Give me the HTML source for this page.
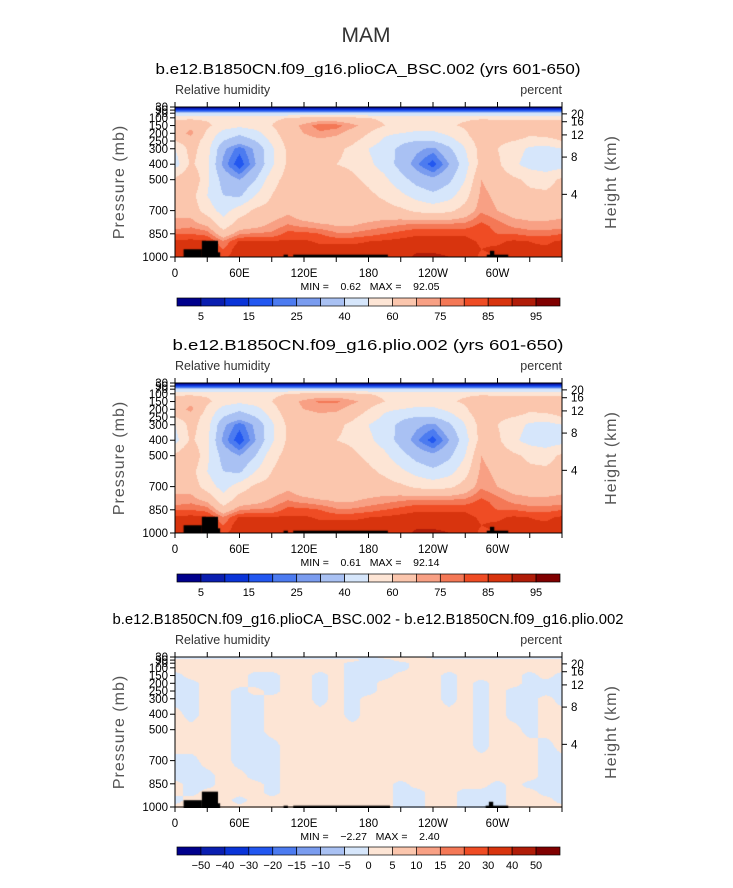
<!DOCTYPE html>
<html><head><meta charset="utf-8">
<style>
html,body{margin:0;padding:0;background:#fff;}
#wrap{position:relative;width:733px;height:888px;overflow:hidden;font-family:"Liberation Sans",sans-serif;}
canvas{position:absolute;}
svg{position:absolute;left:0;top:0;}
</style></head>
<body>
<div id="wrap">
<canvas id="c1" width="387" height="150" style="left:175px;top:107px"></canvas>
<canvas id="c2" width="387" height="150" style="left:175px;top:383px"></canvas>
<canvas id="c3" width="387" height="151" style="left:175px;top:657px"></canvas>
<svg id="ov" width="733" height="888"></svg>
</div>
<script>
const lons=[0,15,30,45,60,75,90,105,120,135,150,165,180,195,210,225,240,255,270,285,300,315,330,345,360];
const plevs=[30,50,70,100,150,200,250,300,400,500,600,700,800,850,900,950,1000];
const rh1=[
[2,2,2,2,2,2,2,2,2,2,2,2,2,2,2,2,2,2,2,2,2,2,2,2,2],
[12,12,12,12,12,12,12,12,12,12,12,12,12,12,12,12,12,12,12,12,12,12,12,12,12],
[40,40,40,40,40,40,40,40,40,40,40,40,40,40,40,40,40,40,40,40,40,40,40,40,40],
[58,58,58,56,56,56,58,60,62,64,64,62,60,58,58,58,58,58,58,58,58,58,58,58,58],
[65,68,62,55,52,55,60,66,72,78,77,72,66,60,56,55,55,58,62,68,66,65,66,65,65],
[66,72,58,46,42,46,56,66,70,74,72,66,60,52,50,48,48,52,58,70,66,68,62,64,66],
[60,66,55,40,34,40,52,64,66,68,66,62,56,48,42,40,40,46,54,66,62,60,56,56,60],
[50,64,54,32,22,32,48,62,62,62,62,58,50,44,38,32,28,38,50,64,60,55,48,46,50],
[45,62,52,28,16,30,48,62,60,62,60,58,52,46,36,26,17,30,46,64,62,52,46,44,45],
[62,70,52,36,30,40,56,64,68,68,66,62,58,52,44,36,32,38,50,70,66,62,58,56,62],
[64,64,50,40,38,50,60,66,70,66,65,64,62,58,52,46,42,46,56,72,68,64,62,62,64],
[68,66,55,46,55,62,64,68,62,60,64,64,64,64,62,58,56,58,64,74,70,66,66,66,68],
[72,74,70,56,66,68,72,76,74,72,70,70,72,74,76,78,78,78,78,82,78,74,72,72,72],
[80,80,78,64,74,76,76,82,82,80,76,76,78,80,82,84,84,84,84,82,80,80,78,78,80],
[86,87,86,76,86,86,86,86,86,84,84,84,85,86,87,88,88,88,87,84,84,86,85,84,86],
[87,87,86,80,89,88,88,88,88,87,87,87,87,88,89,89,89,89,88,85,86,87,86,86,87],
[86,86,86,84,88,88,88,88,88,87,87,87,87,88,88,91,91,90,88,84,85,86,86,86,86]];
const rh2=[
[2,2,2,2,2,2,2,2,2,2,2,2,2,2,2,2,2,2,2,2,2,2,2,2,2],
[12,12,12,12,12,12,12,12,12,12,12,12,12,12,12,12,12,12,12,12,12,12,12,12,12],
[40,40,40,40,40,40,40,40,40,40,40,40,40,40,40,40,40,40,40,40,40,40,40,40,40],
[58,58,58,56,56,56,58,60,62,64,64,62,60,58,58,58,58,58,58,58,58,58,58,58,58],
[66,68,62,55,52,55,60,66,72,76,76,72,66,60,56,55,55,58,62,68,66,65,66,65,66],
[66,72,58,46,42,46,56,66,70,72,72,66,60,52,50,48,48,52,58,70,66,68,62,64,66],
[60,66,55,40,34,40,52,64,66,68,66,62,56,48,42,40,40,46,54,66,62,60,56,56,60],
[50,64,54,32,22,32,48,62,62,62,62,58,50,44,38,32,28,38,50,64,60,55,48,46,50],
[46,62,52,28,16,30,48,62,60,62,60,58,52,46,36,26,17,30,46,64,62,52,46,44,46],
[62,70,52,36,30,40,56,64,68,68,66,62,58,52,44,36,32,38,50,70,66,62,58,56,62],
[64,64,50,40,38,50,60,66,70,66,65,64,62,58,52,46,42,46,56,72,68,64,62,62,64],
[68,66,55,46,55,62,64,68,62,60,64,64,64,64,62,58,56,58,64,74,70,66,66,66,68],
[72,74,70,56,66,68,72,76,74,72,70,70,72,74,76,78,78,78,78,82,78,74,72,72,72],
[80,80,78,64,74,76,76,82,82,80,76,76,78,80,82,84,84,84,84,82,80,80,78,78,80],
[86,87,86,76,86,86,86,86,86,84,84,84,85,86,87,88,88,88,87,84,84,86,85,84,86],
[87,87,86,80,89,88,88,88,88,87,87,87,87,88,89,89,89,89,88,85,86,87,86,86,87],
[86,86,86,84,88,88,88,88,88,87,87,87,87,88,88,91,91,90,88,84,85,86,86,86,86]];
const diff=[
[-1,-1,-1,-1,-1,-1,-1,-1,-1,-1,-1,-1,-1,1,1,1,-1,-1,-1,-1,-1,-1,-1,-1,-1],
[1,1,1,1,1,1,1,1,1,1,1,1,-1,-1,1,1,1,1,1,1,1,1,1,1,1],
[1,1,1,1,1,1,1,1,1,1,1,-1,-1,-1,-1,1,1,1,1,1,1,1,1,1,1],
[1,1,1,1,1,1,1,1,1,1,1,-1,-1,-1,-1,1,1,1,1,1,1,1,1,1,1],
[-1,1,1,1,1,-1,-1,1,1,-1,1,-1,-1,-1,1,1,1,-1,1,1,1,1,-1,1,-1],
[-1,-1,1,1,1,-1,-1,1,1,-1,1,-1,-1,1,1,1,1,-1,1,-1,1,1,-1,-1,-1],
[-1,-1,1,1,-1,1,-1,1,1,-1,1,-1,-1,1,1,1,1,-1,1,-1,1,-1,-1,-1,-1],
[-1,-1,1,1,-1,-1,1,1,1,-1,1,-1,1,1,1,1,1,-1,1,-1,1,-1,-1,1,-1],
[1,-1,1,1,-1,-1,1,1,1,1,1,-1,1,1,1,1,1,1,1,-1,1,-1,-1,1,1],
[1,1,1,1,-1,-1,1,1,1,1,1,1,1,1,1,1,1,1,1,-1,1,1,-1,1,1],
[1,1,1,1,-1,-1,-1,1,1,1,1,1,1,1,1,1,1,1,1,-1,1,1,1,-1,1],
[-1,-1,1,1,-1,-1,-1,1,1,1,1,1,1,1,1,1,1,1,1,1,1,1,1,-1,-1],
[-1,-1,-1,1,1,-1,-1,1,1,1,1,1,1,1,1,1,1,1,1,1,1,1,1,-1,-1],
[1,-1,-1,1,1,1,-1,1,1,1,1,1,1,1,-1,1,1,1,1,1,-1,1,-1,-1,-1],
[1,-1,1,1,1,1,-1,1,1,1,1,1,1,1,-1,-1,1,1,-1,-1,-1,1,1,-1,-1],
[-1,1,1,1,-1,1,1,1,1,1,1,1,1,1,-1,-1,1,1,-1,-1,-1,1,1,1,-1],
[1,1,1,1,1,1,1,1,1,1,1,1,1,1,-1,-1,1,1,-1,-1,-1,1,1,1,1]];
const topo1=[[8,25,950],[25,40,895],[40,42,970],[101,105,985],[110,198,985],[293,297,960],[290,310,985]];
const topo3=[[8,25,950],[25,40,895],[40,42,970],[101,105,985],[110,200,985],[292,296,960],[289,310,985]];
const levelsRH=[5,10,15,20,25,30,40,50,60,70,75,80,85,90,95];
const levelsDiff=[-50,-40,-30,-20,-15,-10,-5,0,5,10,15,20,30,40,50];
const cbLabelsRH=['','5','','15','','25','','40','','60','','75','','85','','95',''];
const cbLabelsDiff=['','−50','−40','−30','−20','−15','−10','−5','0','5','10','15','20','30','40','50',''];
const colors=['#00008c','#0a1eb0','#0a34d8','#2257f0','#4c7bf0','#7a9cef','#a9c1f3','#d6e6fb','#fde5d5','#fbc6ad','#f8a084','#f47856','#ef4c24','#d8340e','#b01c08','#800000'];
const xTicks=[0,30,60,90,120,150,180,210,240,270,300,330,360];
const xLabels={0:'0',60:'60E',120:'120E',180:'180',240:'120W',300:'60W'};
const pTicks=[30,50,70,100,150,200,250,300,400,500,700,850,1000];
const zTicks=[20,16,12,8,4];
const minmax=[['0.62','92.05'],['0.61','92.14'],['−2.27','2.40']];

const X0=175,W=387,H=150;
function xs(lon){return X0+lon/360*W;}
function ys(top,p){return top+(p-30)/970*H;}
function interp(grid,lon,p){
  let i=0;while(i<lons.length-2&&lon>lons[i+1])i++;
  let j=0;while(j<plevs.length-2&&p>plevs[j+1])j++;
  const tx=(lon-lons[i])/(lons[i+1]-lons[i]);
  const ty=(p-plevs[j])/(plevs[j+1]-plevs[j]);
  const a=grid[j][i],b=grid[j][i+1],c=grid[j+1][i],d=grid[j+1][i+1];
  return (a*(1-tx)+b*tx)*(1-ty)+(c*(1-tx)+d*tx)*ty;
}
function colorFor(v,lev){let k=0;while(k<lev.length&&v>=lev[k])k++;return colors[k];}
function drawField(id,grid,lev,topo){
  const cv=document.getElementById(id),ctx=cv.getContext('2d');
  const h=cv.height;
  for(let px=0;px<W;px++){for(let py=0;py<h;py++){
    const lon=(px+0.5)/W*360,p=30+(py+0.5)/h*970;
    ctx.fillStyle=colorFor(interp(grid,lon,p),lev);ctx.fillRect(px,py,1,1);}}
  ctx.fillStyle='#000';
  topo.forEach(t=>{const x0=t[0]/360*W,x1=t[1]/360*W,y0=(t[2]-30)/970*h;ctx.fillRect(x0,y0,x1-x0,h-y0);});
}
drawField('c1',rh1,levelsRH,topo1);
drawField('c2',rh2,levelsRH,topo1);
drawField('c3',diff.map(r=>r.map(v=>v*2)),levelsDiff,topo3);

const NS='http://www.w3.org/2000/svg',svg=document.getElementById('ov');
function el(tag,attrs,txt){const e=document.createElementNS(NS,tag);for(const k in attrs)e.setAttribute(k,attrs[k]);if(txt!==undefined)e.textContent=txt;svg.appendChild(e);return e;}
let t=el('text',{x:366,y:42,'font-size':21,'text-anchor':'middle',fill:'#333'},'MAM');


const panels=[
 {top:107,title:'b.e12.B1850CN.f09_g16.plioCA_BSC.002 (yrs 601-650)',tl:425,cb:298,lab:cbLabelsRH,mm:minmax[0]},
 {top:383,title:'b.e12.B1850CN.f09_g16.plio.002 (yrs 601-650)',tl:391,cb:574,lab:cbLabelsRH,mm:minmax[1]},
 {top:657,title:'b.e12.B1850CN.f09_g16.plioCA_BSC.002 - b.e12.B1850CN.f09_g16.plio.002',tl:511,cb:847,lab:cbLabelsDiff,mm:minmax[2]}];
panels.forEach((P,n)=>{
  const top=P.top,bot=top+H;
  t=el('text',{x:368,y:top-33,'font-size':14.5,'text-anchor':'middle',fill:'#000',textLength:P.tl,lengthAdjust:'spacingAndGlyphs'},P.title);
  
  
  t=el('text',{x:175,y:top-13,'font-size':12.5,fill:'#333'},'Relative humidity');
  
  
  t=el('text',{x:562,y:top-13,'font-size':12.5,fill:'#333','text-anchor':'end'},'percent');
  
  
  t=el('rect',{x:X0,y:top,width:W,height:H,fill:'none',stroke:'#000','stroke-width':1});
  
  
  xTicks.forEach(v=>{
    const x=xs(v);
    el('line',{x1:x,x2:x,y1:bot,y2:bot+5,stroke:'#000'});
    el('line',{x1:x,x2:x,y1:top,y2:top-5,stroke:'#000'});
    if(xLabels[v]!==undefined){t=el('text',{x:x,y:bot+20,'font-size':11.5,'text-anchor':'middle',fill:'#000'},xLabels[v]);
      
      }
  });
  pTicks.forEach(p=>{
    const y=ys(top,p);
    el('line',{x1:X0,x2:X0-5,y1:y,y2:y,stroke:'#000'});
    t=el('text',{x:X0-7,y:y+4,'font-size':11.5,'text-anchor':'end',fill:'#000'},String(p));
    
    
  });
  zTicks.forEach(z=>{
    const y=ys(top,1000*Math.exp(-z/7.7));
    el('line',{x1:X0+W,x2:X0+W+5,y1:y,y2:y,stroke:'#000'});
    t=el('text',{x:X0+W+9,y:y+4,'font-size':11.5,fill:'#000'},String(z));
    
    
  });
  t=el('text',{x:0,y:0,'font-size':16,'text-anchor':'middle',fill:'#555',transform:`translate(124,${top+75}) rotate(-90)`,'letter-spacing':'1'},'Pressure  (mb)');
  
  
  t=el('text',{x:0,y:0,'font-size':16,'text-anchor':'middle',fill:'#555',transform:`translate(616,${top+75}) rotate(-90)`,'letter-spacing':'1'},'Height  (km)');
  
  
  t=el('text',{x:370,y:bot+33,'font-size':10.5,'text-anchor':'middle',fill:'#000',style:'white-space:pre'},`MIN =    ${P.mm[0]}   MAX =    ${P.mm[1]}`);
  
  
  const cbx=177,cbw=383,bw=cbw/16;
  for(let k=0;k<16;k++){
    t=el('rect',{x:cbx+k*bw,y:P.cb,width:bw,height:8,fill:colors[k],stroke:'#000','stroke-width':0.7});
    
    
    if(P.lab[k]){t=el('text',{x:cbx+k*bw,y:P.cb+22,'font-size':11,'text-anchor':'middle',fill:'#000'},P.lab[k]);
      
      }
  }
});
</script>
</body></html>
